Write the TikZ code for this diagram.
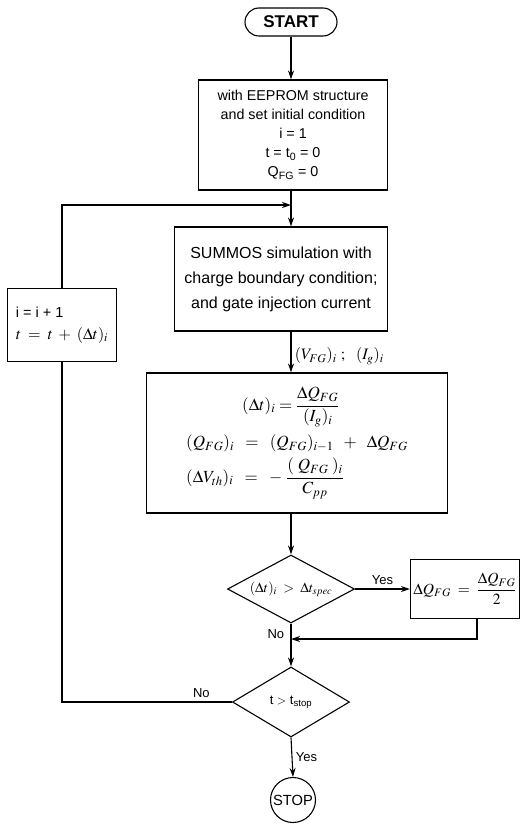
\documentclass[tikz,border=0pt]{standalone}
\usepackage{amsmath,amssymb}
\usepackage{mathptmx}
\usepackage{fontspec}
\setmainfont{Liberation Sans}
\usetikzlibrary{shapes.geometric,arrows.meta}

\begin{document}
\begin{tikzpicture}[x=1pt,y=-1pt,line width=1.1pt,
  box/.style={draw,rectangle,inner sep=2pt,align=center},
  test/.style={draw,diamond,inner sep=0pt,aspect=1.8},
  flow/.style={-{Stealth[length=9pt,width=6pt]}},
  lbl/.style={font=\fontsize{13}{15}\selectfont}]
  \useasboundingbox (0,0) rectangle (527,825);
  \coordinate (join) at (291,205);
  \coordinate (merge) at (291,639);
  \node[box,rounded corners=14pt,minimum width=92pt,minimum height=28pt,
    font=\fontsize{17}{20}\selectfont\bfseries] (start) at (291,22) {START};
  \node[box,minimum width=189pt,minimum height=110pt,font=\fontsize{14.3}{19}\selectfont]
    (init) at (293,135) {with EEPROM structure\\and set initial condition\\i = 1\\
    t = t\textsubscript{0} = 0\\Q\textsubscript{FG} = 0};
  \node[box,minimum width=213pt,minimum height=104pt,font=\fontsize{16}{25}\selectfont]
    (summos) at (281,279) {SUMMOS simulation with\\charge boundary condition;\\
    and gate injection current};
  \node[box,align=left,minimum width=109pt,minimum height=73pt,font=\fontsize{14.5}{22}\selectfont]
    (incr) at (62,325) {i = i + 1\\{\fontsize{16}{22}\selectfont$t \;=\; t \;+\; (\Delta t)_i$}};
  \node[box,align=left,minimum width=301pt,minimum height=140pt,font=\fontsize{17}{19}\selectfont]
    (eqs) at (297,443) {\hspace*{56pt}$(\Delta t)_i = \dfrac{\Delta Q_{FG}}{(I_g)_i}$\\[7pt]
    $(Q_{FG})_i \;\;=\;\; (Q_{FG})_{i-1} \;\;+\;\; \Delta Q_{FG}$\\[5pt]
    $(\Delta V_{th})_i \;\;=\;\; -\;\dfrac{(\;Q_{FG}\;)_i}{C_{pp}}$};
  \node[test,minimum width=127pt,minimum height=68pt,font=\fontsize{14}{16}\selectfont]
    (dchk) at (291,589) {$(\Delta t)_i \;>\; \Delta t_{spec}$};
  \node[box,minimum width=109pt,minimum height=59pt,font=\fontsize{15.5}{18}\selectfont]
    (halve) at (465,589) {$\Delta Q_{FG} \;=\; \dfrac{\Delta Q_{FG}}{2}$};
  \node[test,minimum width=117pt,minimum height=70pt,font=\fontsize{13}{16}\selectfont]
    (stopchk) at (291,702) {t {\fontsize{12}{14}\selectfont$>$} t\textsubscript{stop}};
  \node[draw,circle,minimum size=45pt,inner sep=1pt,font=\fontsize{14.7}{17}\selectfont]
    (stop) at (293,800) {STOP};
  % main flow
  \draw[flow] (start.south) -- (start.south |- init.north);
  \draw[flow] (init.south -| join) -- (summos.north -| join);
  \draw[flow] (summos.south -| join) -- node[right,pos=0.6,font=\fontsize{16}{18}\selectfont]
    {$(V_{FG})_i\ ;\ \ (I_g)_i$} (eqs.north -| join);
  \draw[flow] (eqs.south -| join) -- (dchk.north);
  \draw[flow] (dchk.east) -- node[lbl,above] {Yes} (halve.west);
  \draw[flow] ([xshift=12pt]halve.south) |- (merge);
  \draw[flow] (dchk.south) -- node[lbl,left=3pt,pos=0.25] {No} (stopchk.north);
  \draw[flow] (stopchk.south) -- node[lbl,right] {Yes} (stop.north);
  % loop back
  \draw (stopchk.west) -| node[lbl,above,pos=0.09] {No} (incr.south);
  \draw[flow] (incr.north) |- (join);
\end{tikzpicture}
\end{document}
